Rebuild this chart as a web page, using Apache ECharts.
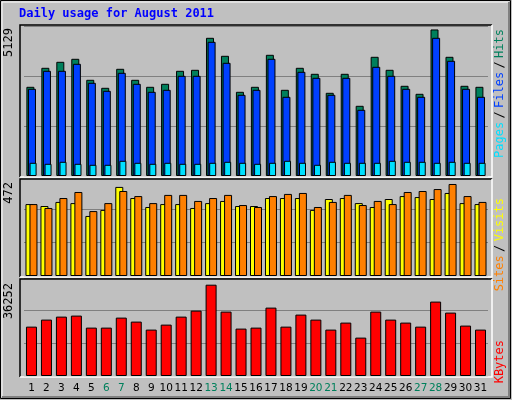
<!DOCTYPE html>
<html><head><meta charset="utf-8">
<script src="https://cdn.jsdelivr.net/npm/echarts@6/dist/echarts.min.js"></script>
<style>html,body{margin:0;padding:0;background:#C0C0C0}#c{width:512px;height:400px}</style>
</head><body><div id="c"></div>
<script>
const days = ['1','2','3','4','5','6','7','8','9','10','11','12','13','14','15','16','17','18','19','20','21','22','23','24','25','26','27','28','29','30','31'];
const weekend = ['6','7','13','14','20','21','27','28'];
const hits = [3122,3787,3997,4102,3367,3087,3752,3367,3122,3227,3682,3717,4837,4207,2947,3122,4242,3017,3787,3577,2912,3577,2457,4172,3717,3157,2877,5129,4172,3157,3122];
const files = [3052,3682,3682,3927,3262,2982,3612,3227,2947,3017,3507,3507,4697,3962,2842,3017,4102,2772,3647,3437,2842,3437,2317,3822,3507,3052,2772,4837,4032,3052,2772];
const pages = [462,427,497,427,392,392,532,462,427,462,427,427,462,497,462,427,462,532,462,392,497,462,462,462,532,497,497,462,497,462,462];
const visits = [369,349,400,431,333,374,436,410,374,416,416,385,400,416,364,354,410,421,426,354,380,416,364,385,369,431,436,446,472,410,380];
const sites = [369,359,380,374,308,339,457,400,354,369,369,349,374,385,359,359,400,400,400,339,395,400,374,354,395,410,405,395,426,374,369];
const kbytes = [19600,22390,23580,23980,19210,19210,23180,21600,18420,20400,23580,25960,36252,25570,18820,19210,27150,19600,24380,22390,18420,21200,15240,25570,22390,21200,19600,29540,25170,20010,18420];
const maxLabels = ['5129','472','36252'];

const chart = echarts.init(document.getElementById('c'));
const bs = {borderColor:'#000',borderWidth:1};
const gridLine = {show:true,lineStyle:{color:'#808080',width:1}};
function xa(i,show){return {type:'category',data:days,gridIndex:i,axisLine:{show:false},axisTick:{show:false},
  axisLabel:show?{show:true,interval:0,fontFamily:'DejaVu Sans',fontSize:10.5,margin:7,
   color:(v)=>weekend.includes(v)?'#00805C':'#000'}:{show:false}};}
function ya(i,max,interval){return {type:'value',gridIndex:i,min:0,max:max,interval:interval,axisLabel:{show:false},
  axisLine:{show:false},axisTick:{show:false},splitLine:gridLine};}
function panel(y,h){return [
  {type:'rect',shape:{x:20,y:y,width:472,height:h},style:{fill:'#C0C0C0',stroke:null},z:-10},
  {type:'polyline',shape:{points:[[20,y+h],[20,y],[492,y]]},style:{stroke:'#000',lineWidth:1.5,fill:null},z:10},
  {type:'polyline',shape:{points:[[492,y],[492,y+h],[20,y+h]]},style:{stroke:'#fff',lineWidth:1.5,fill:null},z:10}
];}
const F = '12px "DejaVu Sans Mono"';
chart.setOption({
  animation:false,
  backgroundColor:'#C0C0C0',
  grid:[{left:24,right:24,top:26,height:150},{left:24,right:24,top:176,height:100},{left:24,right:24,top:278,height:98}],
  xAxis:[xa(0,false),xa(1,false),xa(2,true)],
  yAxis:[ya(0,5250,1750),ya(1,513,171),ya(2,38910,12970)],
  graphic:[
    {type:'rect',shape:{x:0.5,y:0.5,width:510,height:398},style:{fill:null,stroke:'#000',lineWidth:1},z:-20},
    {type:'polyline',shape:{points:[[2,397],[2,2],[509,2]]},style:{stroke:'#fff',lineWidth:1,fill:null},z:-19},
    {type:'polyline',shape:{points:[[509,2],[509,397],[2,397]]},style:{stroke:'#808080',lineWidth:2,fill:null},z:-19},
    ...panel(25,152),...panel(179,98),...panel(279,98),
    {type:'text',x:19,y:8,style:{text:'Daily usage for August 2011',font:'bold 12px "DejaVu Sans Mono"',fill:'#0000FF'}},
    {type:'text',x:9,y:28,rotation:Math.PI/2,style:{text:maxLabels[0],font:F,fill:'#000',align:'right',verticalAlign:'middle'}},
    {type:'text',x:9,y:182,rotation:Math.PI/2,style:{text:maxLabels[1],font:F,fill:'#000',align:'right',verticalAlign:'middle'}},
    {type:'text',x:9,y:283,rotation:Math.PI/2,style:{text:maxLabels[2],font:F,fill:'#000',align:'right',verticalAlign:'middle'}},
    {type:'text',x:500,y:29,rotation:Math.PI/2,style:{text:'{p|Pages} {s|/} {f|Files} {s|/} {h|Hits}',align:'right',verticalAlign:'middle',
      rich:{p:{fill:'#00E0FF',font:F},f:{fill:'#0040FF',font:F},h:{fill:'#00805C',font:F},s:{fill:'#000',font:F}}}},
    {type:'text',x:500,y:198,rotation:Math.PI/2,style:{text:'{a|Sites} {s|/} {b|Visits}',align:'right',verticalAlign:'middle',
      rich:{a:{fill:'#FF8000',font:F},b:{fill:'#FFFF00',font:F},s:{fill:'#000',font:F}}}},
    {type:'text',x:500,y:340,rotation:Math.PI/2,style:{text:'KBytes',fill:'#FF0000',font:F,align:'right',verticalAlign:'middle'}}
  ],
  series:[
    {type:'bar',name:'Hits',data:hits,xAxisIndex:0,yAxisIndex:0,barWidth:8,barGap:'-62%',itemStyle:{color:'#00805C',...bs}},
    {type:'bar',name:'Files',data:files,xAxisIndex:0,yAxisIndex:0,barWidth:8,barGap:'-62%',itemStyle:{color:'#0040FF',...bs}},
    {type:'bar',name:'Pages',data:pages,xAxisIndex:0,yAxisIndex:0,barWidth:7,barGap:'-80%',itemStyle:{color:'#00E0FF',...bs}},
    {type:'bar',name:'Sites',data:sites,xAxisIndex:1,yAxisIndex:1,barWidth:8,barGap:'-50%',itemStyle:{color:'#FFFF00',...bs}},
    {type:'bar',name:'Visits',data:visits,xAxisIndex:1,yAxisIndex:1,barWidth:8,barGap:'-50%',itemStyle:{color:'#FF8000',...bs}},
    {type:'bar',name:'KBytes',data:kbytes,xAxisIndex:2,yAxisIndex:2,barWidth:11,itemStyle:{color:'#FF0000',...bs}}
  ]
});
</script></body></html>
